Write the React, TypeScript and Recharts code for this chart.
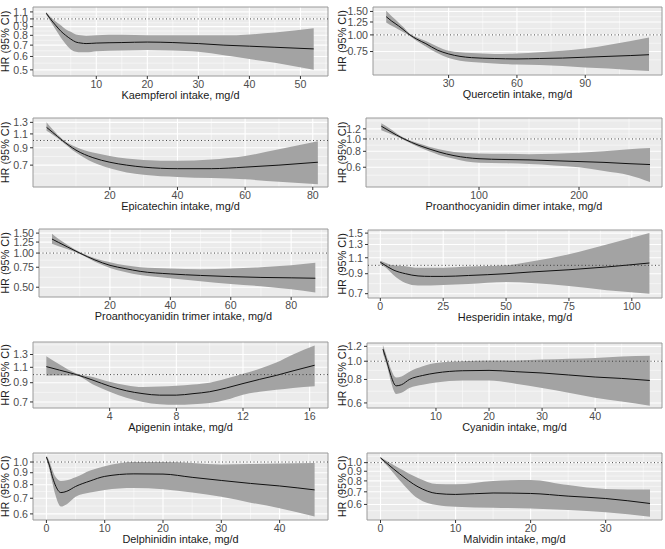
import React from "react";
import {
  Area,
  CartesianGrid,
  ComposedChart,
  Line,
  ReferenceArea,
  ReferenceLine,
  XAxis,
  YAxis,
} from "recharts";

type Pt = { x: number; hr: number; lo: number; hi: number };

// HR with 95% CI, one array per flavonoid
const kaempferol: Pt[] = [
  { x: 0.2, hr: 1.08, lo: 1.06, hi: 1.1 },
  { x: 1, hr: 1.0, lo: 0.97, hi: 1.03 },
  { x: 2, hr: 0.92, lo: 0.87, hi: 0.97 },
  { x: 3, hr: 0.85, lo: 0.78, hi: 0.92 },
  { x: 4, hr: 0.8, lo: 0.71, hi: 0.87 },
  { x: 5, hr: 0.76, lo: 0.66, hi: 0.84 },
  { x: 6, hr: 0.73, lo: 0.64, hi: 0.81 },
  { x: 7, hr: 0.72, lo: 0.635, hi: 0.8 },
  { x: 8, hr: 0.715, lo: 0.635, hi: 0.795 },
  { x: 10, hr: 0.72, lo: 0.645, hi: 0.8 },
  { x: 15, hr: 0.725, lo: 0.65, hi: 0.805 },
  { x: 20, hr: 0.73, lo: 0.655, hi: 0.8 },
  { x: 25, hr: 0.725, lo: 0.65, hi: 0.8 },
  { x: 30, hr: 0.715, lo: 0.64, hi: 0.8 },
  { x: 35, hr: 0.7, lo: 0.61, hi: 0.8 },
  { x: 40, hr: 0.69, lo: 0.58, hi: 0.81 },
  { x: 45, hr: 0.68, lo: 0.55, hi: 0.83 },
  { x: 52.6, hr: 0.665, lo: 0.5, hi: 0.88 },
];

const quercetin: Pt[] = [
  { x: 2.6, hr: 1.37, lo: 1.24, hi: 1.52 },
  { x: 5, hr: 1.27, lo: 1.17, hi: 1.38 },
  { x: 8, hr: 1.17, lo: 1.1, hi: 1.24 },
  { x: 10, hr: 1.1, lo: 1.05, hi: 1.15 },
  { x: 13, hr: 1.0, lo: 0.98, hi: 1.02 },
  { x: 16, hr: 0.93, lo: 0.9, hi: 0.96 },
  { x: 20, hr: 0.86, lo: 0.82, hi: 0.9 },
  { x: 25, hr: 0.77, lo: 0.73, hi: 0.82 },
  { x: 30, hr: 0.72, lo: 0.67, hi: 0.76 },
  { x: 35, hr: 0.69, lo: 0.64, hi: 0.74 },
  { x: 40, hr: 0.675, lo: 0.625, hi: 0.73 },
  { x: 50, hr: 0.665, lo: 0.61, hi: 0.72 },
  { x: 60, hr: 0.66, lo: 0.6, hi: 0.725 },
  { x: 70, hr: 0.665, lo: 0.595, hi: 0.74 },
  { x: 80, hr: 0.67, lo: 0.585, hi: 0.76 },
  { x: 90, hr: 0.68, lo: 0.57, hi: 0.79 },
  { x: 100, hr: 0.69, lo: 0.56, hi: 0.84 },
  { x: 110, hr: 0.7, lo: 0.545, hi: 0.9 },
  { x: 118, hr: 0.71, lo: 0.535, hi: 0.955 },
];

const epicatechin: Pt[] = [
  { x: 1.3, hr: 1.21, lo: 1.15, hi: 1.3 },
  { x: 3, hr: 1.13, lo: 1.09, hi: 1.18 },
  { x: 6, hr: 1.0, lo: 0.98, hi: 1.02 },
  { x: 10, hr: 0.87, lo: 0.84, hi: 0.91 },
  { x: 15, hr: 0.78, lo: 0.73, hi: 0.84 },
  { x: 20, hr: 0.73, lo: 0.67, hi: 0.8 },
  { x: 25, hr: 0.7, lo: 0.63, hi: 0.77 },
  { x: 30, hr: 0.68, lo: 0.61, hi: 0.755 },
  { x: 40, hr: 0.665, lo: 0.59, hi: 0.745 },
  { x: 50, hr: 0.665, lo: 0.58, hi: 0.76 },
  { x: 60, hr: 0.68, lo: 0.57, hi: 0.8 },
  { x: 70, hr: 0.7, lo: 0.55, hi: 0.88 },
  { x: 81.5, hr: 0.73, lo: 0.53, hi: 0.99 },
];

const dimer: Pt[] = [
  { x: 2.3, hr: 1.26, lo: 1.17, hi: 1.33 },
  { x: 10, hr: 1.16, lo: 1.11, hi: 1.22 },
  { x: 25, hr: 1.0, lo: 0.98, hi: 1.02 },
  { x: 40, hr: 0.89, lo: 0.86, hi: 0.92 },
  { x: 50, hr: 0.836, lo: 0.8, hi: 0.87 },
  { x: 60, hr: 0.79, lo: 0.75, hi: 0.83 },
  { x: 75, hr: 0.74, lo: 0.7, hi: 0.79 },
  { x: 100, hr: 0.7, lo: 0.65, hi: 0.77 },
  { x: 125, hr: 0.69, lo: 0.645, hi: 0.765 },
  { x: 150, hr: 0.685, lo: 0.635, hi: 0.76 },
  { x: 175, hr: 0.675, lo: 0.62, hi: 0.765 },
  { x: 200, hr: 0.665, lo: 0.6, hi: 0.78 },
  { x: 225, hr: 0.655, lo: 0.56, hi: 0.8 },
  { x: 250, hr: 0.64, lo: 0.52, hi: 0.83 },
  { x: 271, hr: 0.63, lo: 0.46, hi: 0.85 },
];

const trimer: Pt[] = [
  { x: 0.8, hr: 1.33, lo: 1.21, hi: 1.48 },
  { x: 3, hr: 1.24, lo: 1.15, hi: 1.33 },
  { x: 6, hr: 1.13, lo: 1.08, hi: 1.18 },
  { x: 10, hr: 1.0, lo: 0.98, hi: 1.02 },
  { x: 15, hr: 0.87, lo: 0.84, hi: 0.9 },
  { x: 20, hr: 0.78, lo: 0.74, hi: 0.83 },
  { x: 25, hr: 0.73, lo: 0.68, hi: 0.78 },
  { x: 30, hr: 0.69, lo: 0.64, hi: 0.75 },
  { x: 40, hr: 0.655, lo: 0.6, hi: 0.73 },
  { x: 50, hr: 0.635, lo: 0.565, hi: 0.72 },
  { x: 60, hr: 0.62, lo: 0.535, hi: 0.73 },
  { x: 70, hr: 0.61, lo: 0.51, hi: 0.75 },
  { x: 80, hr: 0.605, lo: 0.48, hi: 0.78 },
  { x: 88, hr: 0.6, lo: 0.45, hi: 0.82 },
];

const hesperidin: Pt[] = [
  { x: 0, hr: 1.04, lo: 1.01, hi: 1.06 },
  { x: 3, hr: 0.98, lo: 0.95, hi: 1.02 },
  { x: 5, hr: 0.946, lo: 0.89, hi: 1.0 },
  { x: 10, hr: 0.9, lo: 0.8, hi: 0.99 },
  { x: 15, hr: 0.875, lo: 0.775, hi: 0.97 },
  { x: 20, hr: 0.87, lo: 0.775, hi: 0.97 },
  { x: 25, hr: 0.87, lo: 0.78, hi: 0.97 },
  { x: 35, hr: 0.88, lo: 0.79, hi: 0.985 },
  { x: 50, hr: 0.9, lo: 0.81, hi: 1.0 },
  { x: 60, hr: 0.92, lo: 0.8, hi: 1.05 },
  { x: 75, hr: 0.946, lo: 0.77, hi: 1.15 },
  { x: 90, hr: 0.98, lo: 0.73, hi: 1.3 },
  { x: 107, hr: 1.03, lo: 0.7, hi: 1.5 },
];

const apigenin: Pt[] = [
  { x: 0.2, hr: 1.11, lo: 0.985, hi: 1.27 },
  { x: 1, hr: 1.06, lo: 0.99, hi: 1.14 },
  { x: 2, hr: 1.0, lo: 0.985, hi: 1.015 },
  { x: 3, hr: 0.93, lo: 0.88, hi: 0.97 },
  { x: 4, hr: 0.86, lo: 0.8, hi: 0.91 },
  { x: 5, hr: 0.81, lo: 0.74, hi: 0.87 },
  { x: 6, hr: 0.78, lo: 0.7, hi: 0.85 },
  { x: 7, hr: 0.765, lo: 0.68, hi: 0.855 },
  { x: 8, hr: 0.765, lo: 0.675, hi: 0.865 },
  { x: 9, hr: 0.78, lo: 0.68, hi: 0.88 },
  { x: 10, hr: 0.8, lo: 0.69, hi: 0.9 },
  { x: 11, hr: 0.84, lo: 0.72, hi: 0.95 },
  { x: 12, hr: 0.89, lo: 0.77, hi: 1.01 },
  { x: 13, hr: 0.94, lo: 0.8, hi: 1.08 },
  { x: 14, hr: 0.99, lo: 0.82, hi: 1.17 },
  { x: 15, hr: 1.05, lo: 0.84, hi: 1.3 },
  { x: 16.3, hr: 1.13, lo: 0.86, hi: 1.46 },
];

const cyanidin: Pt[] = [
  { x: 0, hr: 1.16, lo: 1.1, hi: 1.22 },
  { x: 0.5, hr: 1.05, lo: 1.0, hi: 1.11 },
  { x: 1, hr: 0.94, lo: 0.89, hi: 1.0 },
  { x: 1.5, hr: 0.84, lo: 0.78, hi: 0.91 },
  { x: 2.5, hr: 0.74, lo: 0.67, hi: 0.82 },
  { x: 3.5, hr: 0.75, lo: 0.68, hi: 0.83 },
  { x: 5, hr: 0.8, lo: 0.72, hi: 0.88 },
  { x: 7.5, hr: 0.84, lo: 0.75, hi: 0.94 },
  { x: 10, hr: 0.866, lo: 0.77, hi: 0.98 },
  { x: 15, hr: 0.89, lo: 0.79, hi: 1.0 },
  { x: 20, hr: 0.894, lo: 0.79, hi: 1.01 },
  { x: 25, hr: 0.88, lo: 0.76, hi: 1.01 },
  { x: 30, hr: 0.866, lo: 0.72, hi: 1.02 },
  { x: 35, hr: 0.845, lo: 0.68, hi: 1.03 },
  { x: 40, hr: 0.824, lo: 0.64, hi: 1.04 },
  { x: 45, hr: 0.81, lo: 0.61, hi: 1.06 },
  { x: 50.3, hr: 0.79, lo: 0.58, hi: 1.07 },
];

const delphinidin: Pt[] = [
  { x: 0, hr: 1.05, lo: 1.03, hi: 1.07 },
  { x: 0.5, hr: 0.97, lo: 0.93, hi: 1.01 },
  { x: 1, hr: 0.87, lo: 0.82, hi: 0.93 },
  { x: 1.5, hr: 0.8, lo: 0.73, hi: 0.87 },
  { x: 2.5, hr: 0.74, lo: 0.645, hi: 0.83 },
  { x: 3.5, hr: 0.75, lo: 0.66, hi: 0.835 },
  { x: 5, hr: 0.786, lo: 0.71, hi: 0.86 },
  { x: 7.5, hr: 0.83, lo: 0.74, hi: 0.92 },
  { x: 10, hr: 0.868, lo: 0.76, hi: 0.96 },
  { x: 15, hr: 0.89, lo: 0.775, hi: 1.0 },
  { x: 20, hr: 0.888, lo: 0.765, hi: 1.0 },
  { x: 25, hr: 0.86, lo: 0.74, hi: 0.99 },
  { x: 30, hr: 0.834, lo: 0.71, hi: 0.975 },
  { x: 35, hr: 0.81, lo: 0.67, hi: 0.98 },
  { x: 40, hr: 0.79, lo: 0.635, hi: 0.985 },
  { x: 46, hr: 0.76, lo: 0.585, hi: 0.99 },
];

const malvidin: Pt[] = [
  { x: 0, hr: 1.06, lo: 1.05, hi: 1.07 },
  { x: 1, hr: 0.98, lo: 0.95, hi: 1.01 },
  { x: 2.5, hr: 0.875, lo: 0.81, hi: 0.935 },
  { x: 5, hr: 0.744, lo: 0.645, hi: 0.83 },
  { x: 7.5, hr: 0.686, lo: 0.595, hi: 0.77 },
  { x: 10, hr: 0.678, lo: 0.583, hi: 0.768 },
  { x: 15, hr: 0.69, lo: 0.576, hi: 0.8 },
  { x: 20, hr: 0.686, lo: 0.571, hi: 0.81 },
  { x: 25, hr: 0.664, lo: 0.56, hi: 0.76 },
  { x: 30, hr: 0.645, lo: 0.545, hi: 0.725 },
  { x: 35.9, hr: 0.607, lo: 0.516, hi: 0.72 },
];

// axis ticks
const kaempferolXTicks = [10, 20, 30, 40, 50];
const kaempferolYTicks = [0.5, 0.6, 0.7, 0.8, 0.9, 1.0, 1.1];
const quercetinXTicks = [30, 60, 90];
const quercetinYTicks = [0.75, 1.0, 1.25, 1.5];
const epicatechinXTicks = [20, 40, 60, 80];
const epicatechinYTicks = [0.7, 0.9, 1.1, 1.3];
const dimerXTicks = [100, 200];
const dimerYTicks = [0.6, 0.8, 1.0, 1.2];
const trimerXTicks = [20, 40, 60, 80];
const trimerYTicks = [0.5, 0.75, 1.0, 1.25, 1.5];
const hesperidinXTicks = [0, 25, 50, 75, 100];
const hesperidinYTicks = [0.7, 0.9, 1.1, 1.3, 1.5];
const apigeninXTicks = [4, 8, 12, 16];
const apigeninYTicks = [0.7, 0.9, 1.1, 1.3];
const cyanidinXTicks = [10, 20, 30, 40];
const cyanidinYTicks = [0.6, 0.8, 1.0, 1.2];
const delphinidinXTicks = [0, 10, 20, 30, 40];
const delphinidinYTicks = [0.6, 0.7, 0.8, 0.9, 1.0];
const malvidinXTicks = [0, 10, 20, 30];
const malvidinYTicks = [0.6, 0.7, 0.8, 0.9, 1.0];

const FONT = "'Liberation Sans', Arial, Helvetica, sans-serif";

type PanelSpec = {
  title: string;
  data: Pt[];
  xTicks: number[];
  yTicks: number[];
  xDomain: [number, number];
  yDomain: [number, number];
  dec: number;
  row: number;
  col: number;
  yw: number; // y axis width
  top: number;
  bottom: number;
};

const panels: PanelSpec[] = [
  { title: "Kaempferol intake, mg/d", data: kaempferol, xTicks: kaempferolXTicks, yTicks: kaempferolYTicks, xDomain: [-2.4, 55.4], yDomain: [0.46, 1.176], dec: 1, row: 0, col: 0, yw: 33, top: 7, bottom: 4 },
  { title: "Quercetin intake, mg/d", data: quercetin, xTicks: quercetinXTicks, yTicks: quercetinYTicks, xDomain: [-3.2, 123.7], yDomain: [0.5, 1.62], dec: 2, row: 0, col: 1, yw: 40, top: 7, bottom: 5 },
  { title: "Epicatechin intake, mg/d", data: epicatechin, xTicks: epicatechinXTicks, yTicks: epicatechinYTicks, xDomain: [-2.7, 84.5], yDomain: [0.51, 1.385], dec: 1, row: 1, col: 0, yw: 33, top: 8, bottom: 3 },
  { title: "Proanthocyanidin dimer intake, mg/d", data: dimer, xTicks: dimerXTicks, yTicks: dimerYTicks, xDomain: [-13, 283], yDomain: [0.42, 1.46], dec: 1, row: 1, col: 1, yw: 33, top: 8, bottom: 3 },
  { title: "Proanthocyanidin trimer intake, mg/d", data: trimer, xTicks: trimerXTicks, yTicks: trimerYTicks, xDomain: [-3.5, 92.2], yDomain: [0.41, 1.63], dec: 2, row: 2, col: 0, yw: 39, top: 9, bottom: 3 },
  { title: "Hesperidin intake, mg/d", data: hesperidin, xTicks: hesperidinXTicks, yTicks: hesperidinYTicks, xDomain: [-4.9, 112], yDomain: [0.663, 1.56], dec: 1, row: 2, col: 1, yw: 35, top: 10, bottom: 2 },
  { title: "Apigenin intake, mg/d", data: apigenin, xTicks: apigeninXTicks, yTicks: apigeninYTicks, xDomain: [-0.6, 17.1], yDomain: [0.647, 1.53], dec: 1, row: 3, col: 0, yw: 33, top: 12, bottom: 2 },
  { title: "Cyanidin intake, mg/d", data: cyanidin, xTicks: cyanidinXTicks, yTicks: cyanidinYTicks, xDomain: [-3, 52.6], yDomain: [0.564, 1.25], dec: 1, row: 3, col: 1, yw: 34, top: 13, bottom: 2 },
  { title: "Delphinidin intake, mg/d", data: delphinidin, xTicks: delphinidinXTicks, yTicks: delphinidinYTicks, xDomain: [-2.3, 48.3], yDomain: [0.565, 1.093], dec: 1, row: 4, col: 0, yw: 33, top: 13, bottom: 0 },
  { title: "Malvidin intake, mg/d", data: malvidin, xTicks: malvidinXTicks, yTicks: malvidinYTicks, xDomain: [-1.8, 37.5], yDomain: [0.496, 1.125], dec: 1, row: 4, col: 1, yw: 34, top: 13, bottom: 0 },
];

// ggplot-style minor breaks: midpoints between majors (in log space for y)
function minorBreaks(ticks: number[], domain: [number, number], log: boolean) {
  const f = log ? Math.log : (v: number) => v;
  const g = log ? Math.exp : (v: number) => v;
  let b = ticks.map(f);
  const lo = f(domain[0]);
  const hi = f(domain[1]);
  const bd = b[1] - b[0];
  if (lo < b[0]) b = [b[0] - bd, ...b];
  if (hi > b[b.length - 1]) b = [...b, b[b.length - 1] + bd];
  const mids: number[] = [];
  for (let i = 0; i < b.length - 1; i++) mids.push((b[i] + b[i + 1]) / 2);
  return mids.filter((m) => m > lo && m < hi).map(g);
}

function Panel({ p }: { p: PanelSpec }) {
  const data = p.data.map((d) => ({ ...d, band: [d.lo, d.hi] }));
  const minorX = minorBreaks(p.xTicks, p.xDomain, false);
  const minorY = minorBreaks(p.yTicks, p.yDomain, true);
  const tick = { fontSize: 10.6, fill: "#4d4d4d", fontFamily: FONT };

  return (
    <div style={{ position: "absolute", left: p.col ? 333 : 0, top: p.row * 110 }}>
      <ComposedChart
        width={332}
        height={110}
        data={data}
        margin={{ top: p.top, right: p.col ? 3 : 4, bottom: p.bottom, left: 0 }}
      >
        <CartesianGrid
          fill="#ebebeb"
          stroke="#ffffff"
          strokeWidth={0.5}
          horizontalValues={minorY}
          verticalValues={minorX}
        />
        <CartesianGrid
          stroke="#ffffff"
          strokeWidth={1.1}
          horizontalValues={p.yTicks}
          verticalValues={p.xTicks}
        />
        <XAxis
          type="number"
          dataKey="x"
          domain={p.xDomain}
          ticks={p.xTicks}
          allowDataOverflow
          interval={0}
          height={30}
          tickSize={3}
          tickMargin={1}
          axisLine={false}
          tickLine={{ stroke: "#333333" }}
          tick={tick}
          label={{
            value: p.title,
            position: "insideBottom",
            offset: 7,
            fill: "#1a1a1a",
            style: { fontSize: 10.9, fontFamily: FONT, fill: "#1a1a1a" },
          }}
        />
        <YAxis
          type="number"
          scale="log"
          domain={p.yDomain}
          ticks={p.yTicks}
          allowDataOverflow
          interval={0}
          width={p.yw}
          tickSize={3}
          tickMargin={2}
          axisLine={false}
          tickLine={{ stroke: "#333333" }}
          tick={tick}
          tickFormatter={(v: number) => v.toFixed(p.dec)}
          label={{
            value: "HR (95% CI)",
            angle: -90,
            position: "insideLeft",
            offset: p.col ? 9 : 5,
            fill: "#1a1a1a",
            style: { textAnchor: "middle", fontSize: 10.9, fontFamily: FONT, fill: "#1a1a1a" },
          }}
        />
        <Area
          type="monotone"
          dataKey="band"
          stroke="none"
          fill="#a3a3a3"
          fillOpacity={1}
          dot={false}
          activeDot={false}
          isAnimationActive={false}
        />
        <Line
          type="monotone"
          dataKey="hr"
          stroke="#111111"
          strokeWidth={1}
          dot={false}
          activeDot={false}
          isAnimationActive={false}
        />
        <ReferenceLine y={1} stroke="#333333" strokeWidth={0.9} strokeDasharray="1 2.5" />
        <ReferenceArea
          x1={p.xDomain[0]}
          x2={p.xDomain[1]}
          y1={p.yDomain[0]}
          y2={p.yDomain[1]}
          fill="none"
          stroke="#9a9a9a"
          strokeWidth={1}
        />
      </ComposedChart>
    </div>
  );
}

export default function App() {
  return (
    <div
      style={{
        position: "absolute",
        left: 0,
        top: 0,
        width: 665,
        height: 549,
        background: "#ffffff",
      }}
    >
      {panels.map((p) => (
        <Panel key={p.title} p={p} />
      ))}
    </div>
  );
}
